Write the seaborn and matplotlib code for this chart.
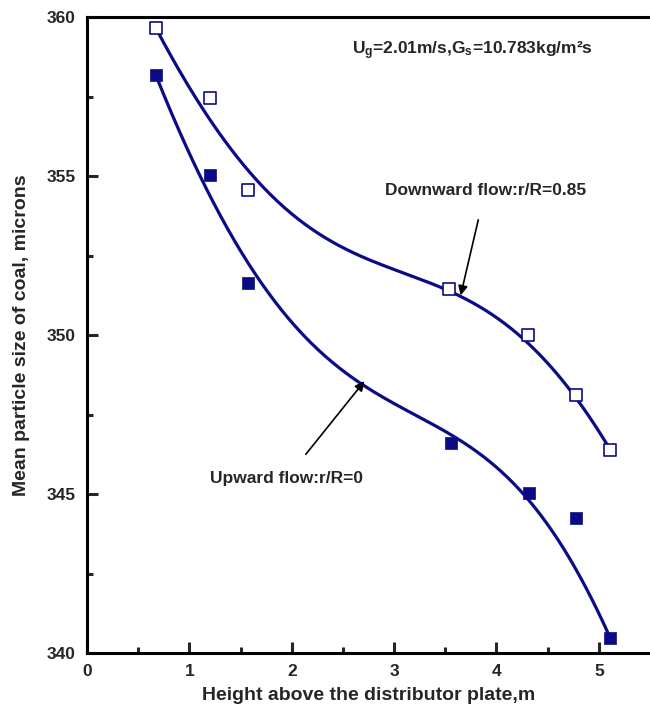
import numpy as np
import pandas as pd
import matplotlib
matplotlib.use("Agg")
import matplotlib.pyplot as plt
import seaborn as sns

# Measured mean particle size of coal along the riser
height_down = [0.67, 1.20, 1.57, 3.54, 4.31, 4.78, 5.11]
size_down = [359.67, 357.47, 354.57, 351.44, 350.00, 348.10, 346.40]

height_up = [0.67, 1.20, 1.575, 3.56, 4.32, 4.78, 5.11]
size_up = [358.19, 355.04, 351.65, 346.60, 345.03, 344.25, 340.47]

x_ticks = [0, 1, 2, 3, 4, 5]
y_ticks = [340, 345, 350, 355, 360]

LINE = "#0b0b86"


def smoothing_curve(xs, ys, lam, order=3, end_w=100.0, n=400):
    """Penalised smoothing curve through the measured points, anchored at both ends."""
    xs = np.asarray(xs, float)
    ys = np.asarray(ys, float)
    w = np.ones(len(xs))
    w[0] = w[-1] = end_w
    g = np.linspace(xs.min(), xs.max(), n)
    h = g[1] - g[0]
    B = np.zeros((len(xs), n))
    for i, x in enumerate(xs):
        j = int(np.clip(np.searchsorted(g, x) - 1, 0, n - 2))
        t = (x - g[j]) / h
        B[i, j] = 1 - t
        B[i, j + 1] = t
    D = np.diff(np.eye(n), order, axis=0)
    W = np.diag(w)
    A = B.T @ W @ B + lam * (D.T @ D) / h ** (2 * order - 1)
    z = np.linalg.solve(A, B.T @ W @ ys)
    return g, z


sns.set_theme(style="ticks")
plt.rcParams["font.family"] = ["Liberation Sans", "DejaVu Sans"]
plt.rcParams["font.weight"] = "bold"
plt.rcParams["mathtext.fontset"] = "custom"
plt.rcParams["mathtext.rm"] = "Liberation Sans:bold"
plt.rcParams["mathtext.it"] = "Liberation Sans:bold"
plt.rcParams["mathtext.default"] = "rm"

fig = plt.figure(figsize=(6.5, 7.16), dpi=100)
ax = fig.add_axes([0.134, 0.088, 0.866, 0.888])

gd, zd = smoothing_curve(height_down, size_down, 0.05)
gu, zu = smoothing_curve(height_up, size_up, 0.1)

curves = pd.concat([
    pd.DataFrame({"h": gd, "d": zd, "series": "down"}),
    pd.DataFrame({"h": gu, "d": zu, "series": "up"}),
])
sns.lineplot(data=curves, x="h", y="d", units="series", estimator=None,
             color=LINE, lw=2.3, ax=ax, sort=False)

sns.scatterplot(x=height_down, y=size_down, marker="s", s=70,
                facecolor="white", edgecolor=LINE, linewidth=1.2, ax=ax, zorder=3)
sns.scatterplot(x=height_up, y=size_up, marker="s", s=70,
                color=LINE, edgecolor=LINE, linewidth=0.5, ax=ax, zorder=3)

ax.set_xlim(0, 5.5)
ax.set_ylim(340, 360)
ax.set_xticks(x_ticks)
ax.set_yticks(y_ticks)
ax.set_xticks(np.arange(0.5, 5.5, 1.0), minor=True)
ax.set_yticks(np.arange(342.5, 360, 5.0), minor=True)
ax.tick_params(which="major", direction="in", length=8, width=2.2,
               labelsize=12.5, pad=8)
ax.tick_params(which="minor", direction="in", length=4.5, width=2.2)
for lab in ax.get_xticklabels() + ax.get_yticklabels():
    lab.set_fontweight("bold")

for side in ["left", "bottom", "top"]:
    ax.spines[side].set_linewidth(2.2)
    ax.spines[side].set_color("black")
ax.spines["right"].set_visible(False)

ax.set_xlabel("Height above the distributor plate,m", fontsize=14,
              fontweight="bold", labelpad=6)
ax.set_ylabel("Mean particle size of coal, microns", fontsize=14,
              fontweight="bold", labelpad=12)

ax.text(3.76, 358.95, "U$_g$=2.01m/s,G$_s$=10.783kg/m²s", ha="center",
        va="center", fontsize=12.5, fontweight="bold")

ax.annotate("Downward flow:r/R=0.85", xy=(3.65, 351.25), xytext=(3.89, 354.56),
            ha="center", va="center", fontsize=12.5, fontweight="bold",
            arrowprops=dict(arrowstyle="-|>", color="black", lw=1.2,
                            mutation_scale=14, shrinkA=14, shrinkB=0))
ax.annotate("Upward flow:r/R=0", xy=(2.71, 348.55), xytext=(1.95, 345.5),
            ha="center", va="center", fontsize=12.5, fontweight="bold",
            arrowprops=dict(arrowstyle="-|>", color="black", lw=1.2,
                            mutation_scale=14, shrinkA=12, shrinkB=0))

fig.savefig("out.png", dpi=100)
